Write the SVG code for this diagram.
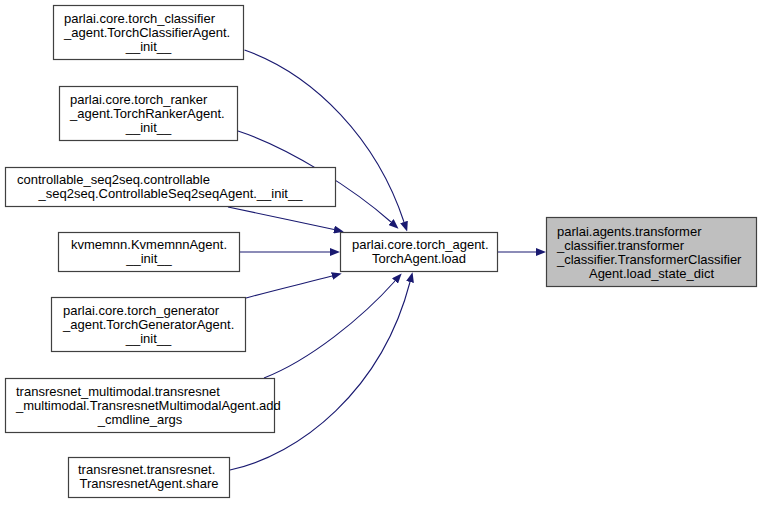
<svg xmlns="http://www.w3.org/2000/svg" width="763" height="505" viewBox="0 0 763 505">
<style>
.n rect{fill:#ffffff;stroke:#404040;stroke-width:1.2}
.n.t rect{fill:#bfbfbf}
text{font-family:"Liberation Sans",Arial,Helvetica,sans-serif;font-size:13px;fill:#000000}
.c{text-anchor:middle}
.e path{fill:none;stroke:#191970;stroke-width:1.1;marker-end:url(#ah)}
</style>
<defs>
<marker id="ah" viewBox="0 0 10 8" refX="0" refY="4" markerWidth="10" markerHeight="8" markerUnits="userSpaceOnUse" orient="auto">
<path d="M0,0 L10,4 L0,8 z" fill="#191970" stroke="none"/>
</marker>
</defs>
<rect width="763" height="505" fill="#ffffff"/>
<g id="edges" class="e">
<path d="M498,252 L536,252"/>
<path d="M244.5,50 C315,75 377,140 404,222"/>
<path d="M238,131 C290,148 355,190 391,222"/>
<path d="M228,207 C260,214 300,222 334,229.5"/>
<path d="M240,252 L330,252"/>
<path d="M246,298 C275,290 305,283 332,276"/>
<path d="M264,378 C310,360 362,318 395,281"/>
<path d="M230,470 C300,455 382,390 410,282"/>
</g>
<g id="target" class="n t">
<rect x="546.5" y="217.5" width="210" height="69"/>
<text x="557" y="235.5">parlai.agents.transformer</text>
<text x="557" y="249.5">_classifier.transformer</text>
<text x="557" y="263.5">_classifier.TransformerClassifier</text>
<text class="c" x="651.5" y="277.5">Agent.load_state_dict</text>
</g>
<g id="load" class="n">
<rect x="340.5" y="232.5" width="157" height="39"/>
<text x="352" y="248.5">parlai.core.torch_agent.</text>
<text class="c" x="419" y="262.5">TorchAgent.load</text>
</g>
<g id="n1" class="n">
<rect x="53.5" y="5.5" width="190" height="54"/>
<text x="64" y="23">parlai.core.torch_classifier</text>
<text x="64" y="37">_agent.TorchClassifierAgent.</text>
<text class="c" x="148.5" y="51">__init__</text>
</g>
<g id="n2" class="n">
<rect x="59.5" y="86.5" width="178" height="54"/>
<text x="70" y="104">parlai.core.torch_ranker</text>
<text x="70" y="118">_agent.TorchRankerAgent.</text>
<text class="c" x="148.5" y="132">__init__</text>
</g>
<g id="n3" class="n">
<rect x="5.5" y="167.5" width="330" height="39"/>
<text x="17" y="184">controllable_seq2seq.controllable</text>
<text class="c" x="170.5" y="198">_seq2seq.ControllableSeq2seqAgent.__init__</text>
</g>
<g id="n4" class="n">
<rect x="58.5" y="232.5" width="181" height="39"/>
<text class="c" x="149" y="248.5">kvmemnn.KvmemnnAgent.</text>
<text class="c" x="149" y="262.5">__init__</text>
</g>
<g id="n5" class="n">
<rect x="51.5" y="297.5" width="194" height="54"/>
<text x="63" y="315">parlai.core.torch_generator</text>
<text x="63" y="329">_agent.TorchGeneratorAgent.</text>
<text class="c" x="148.5" y="343">__init__</text>
</g>
<g id="n6" class="n">
<rect x="5.5" y="378.5" width="269" height="54"/>
<text x="16" y="396">transresnet_multimodal.transresnet</text>
<text x="16" y="410">_multimodal.TransresnetMultimodalAgent.add</text>
<text class="c" x="140" y="424">_cmdline_args</text>
</g>
<g id="n7" class="n">
<rect x="68.5" y="457.5" width="161" height="40"/>
<text x="78" y="474">transresnet.transresnet.</text>
<text class="c" x="149" y="488">TransresnetAgent.share</text>
</g>
</svg>
